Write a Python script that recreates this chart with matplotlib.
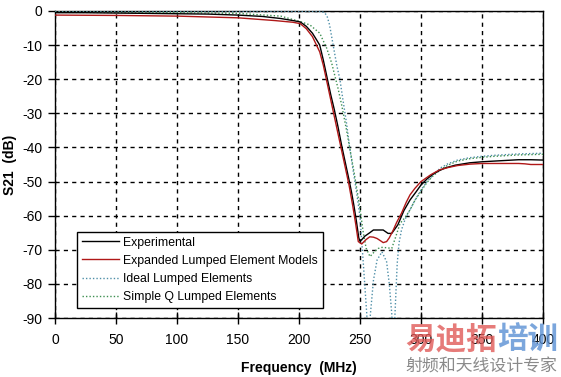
import matplotlib
matplotlib.use("Agg")
import matplotlib.pyplot as plt

plt.rcParams['font.family'] = ['Liberation Sans', 'DejaVu Sans']
plt.rcParams['axes.unicode_minus'] = False

# Experimental
exp_f = [0, 25, 50, 75, 100, 125, 150, 170, 185, 195, 201, 206, 211, 215, 217, 220, 223, 226, 229,
         232, 235, 238, 241, 243, 245, 247, 249, 250, 252, 254, 258, 261, 265, 269, 273, 276, 281,
         286, 291, 296, 300, 305, 310, 315, 320, 328, 340, 350, 360, 370, 380, 390, 400]
exp_db = [-0.5, -0.5, -0.6, -0.7, -0.8, -0.9, -1.2, -1.6, -2.2, -2.8, -3.2, -4.5, -6.5, -8.8, -10,
          -14.5, -19.5, -24.5, -29, -34, -39.5, -44.5, -49.5, -53, -57, -61.5, -66.5, -67.5, -66.8,
          -66, -65, -64.2, -64.2, -64.2, -65.2, -65.2, -62.7, -58.5, -55.4, -53, -51, -49.2, -47.8,
          -46.8, -46, -45.2, -44.5, -44.2, -44, -43.8, -43.6, -43.6, -43.7]

# Expanded Lumped Element Models
red_f = [0, 50, 100, 150, 180, 195, 201, 206, 211, 215, 217, 220, 223, 226, 229, 232, 235, 238, 241,
         244, 246.5, 248.6, 251.4, 255, 258, 261, 264, 267, 269, 271.8, 274, 277.3, 280, 284, 288,
         291, 295, 300, 308, 315, 322, 330, 340, 350, 360, 370, 380, 385, 390, 400]
red_db = [-1.2, -1.3, -1.5, -2.0, -2.8, -3.3, -3.7, -5.2, -7.5, -10.5, -12, -16, -21, -26, -31, -36,
          -41, -46, -51, -57, -62.5, -67.6, -68.3, -67, -66.2, -66.3, -66.7, -67.4, -67.9, -67.6,
          -66.5, -64.2, -62, -59.3, -56, -53.9, -52, -50, -48, -46.6, -45.9, -45.3, -44.9, -44.7,
          -44.7, -44.7, -44.7, -44.8, -45, -45]

# Ideal Lumped Elements
ideal_f = [0, 100, 200, 215, 219, 221, 223, 225, 227, 229, 231, 233.5, 236, 239, 241.8, 244.5, 247.3,
           250, 252.7, 255.5, 257, 258.5, 261, 264, 268, 271.8, 274, 276, 277.3, 278.7, 280.5, 282,
           284, 287, 291, 295, 300, 305, 310, 316, 322, 330, 340, 350, 360, 370, 380, 390, 400]
ideal_db = [-0.1, -0.1, -0.1, -0.1, -0.2, -0.5, -1.5, -4, -8, -12, -16, -20, -26, -33, -40.7, -47,
            -53.4, -60.3, -73.9, -88.6, -100, -89, -79, -73, -70.6, -73.5, -80, -88.6, -100, -88.6,
            -74, -68, -64.2, -61, -58.3, -55.5, -52.5, -50, -48, -46, -44.8, -43.7, -43, -42.6,
            -42.3, -42.1, -41.9, -41.8, -41.7]

# Simple Q Lumped Elements
simq_f = [0, 100, 150, 185, 193, 201, 209, 217, 222.7, 226.8, 232, 235, 239, 242, 245, 248, 250,
          252.7, 255, 258.2, 262, 265, 268, 271.8, 276, 279, 282.8, 287, 291, 295, 300, 305, 310,
          316, 322, 330, 340, 350, 360, 370, 380, 390, 400]
simq_db = [-0.4, -0.5, -0.7, -1.5, -2.3, -3.1, -4.1, -6.5, -10.9, -15.3, -22.7, -27.6, -35, -41,
           -47, -53.5, -58, -65, -69.5, -72, -70.5, -69.6, -69.3, -69.4, -69.6, -66.5, -62.3, -60.5,
           -58.3, -55.5, -52.8, -50.2, -48.3, -46.5, -45.2, -44, -43.3, -42.9, -42.6, -42.4, -42.2,
           -42.1, -42]

fig = plt.figure(figsize=(5.61, 3.77), dpi=100)
ax = fig.add_axes([55/561, 59/377, 488/561, 307/377])

ax.plot(exp_f, exp_db, color='black', lw=1.0, label='Experimental', zorder=4)
ax.plot(red_f, red_db, color='#b01818', lw=1.0, label='Expanded Lumped Element Models', zorder=5)
ax.plot(ideal_f, ideal_db, color='#4f8fa8', lw=1.0, ls=(0, (1, 1.5)), label='Ideal Lumped Elements', zorder=3)
ax.plot(simq_f, simq_db, color='#3d8f50', lw=1.0, ls=(0, (1, 1.5)), label='Simple Q Lumped Elements', zorder=3)

ax.set_xlim(0, 400)
ax.set_ylim(-90, 0)
ax.set_xticks(range(0, 401, 50))
ax.set_yticks(range(-90, 1, 10))
ax.grid(True, color='black', ls=(0, (3, 3)), lw=1.0)
ax.tick_params(axis='y', direction='out', length=5, width=1, pad=4, labelsize=10)
ax.tick_params(axis='x', direction='inout', length=8, width=1, pad=7, labelsize=10)
for s in ax.spines.values():
    s.set_linewidth(1.0)

ax.set_xlabel('Frequency  (MHz)', fontsize=10, fontweight='bold', labelpad=10)
ax.set_ylabel('S21  (dB)', fontsize=10, fontweight='bold')
ax.yaxis.set_label_coords(-0.078, 0.5)

leg = ax.legend(loc='lower left', bbox_to_anchor=(0.045, 0.033), borderaxespad=0, fontsize=8.8,
                fancybox=False, framealpha=1, edgecolor='black', handlelength=3.0,
                labelspacing=0.5, borderpad=0.4, handletextpad=0.4)
leg.get_frame().set_linewidth(1.0)
leg.set_zorder(10)

# watermark
fig.text(405/561, 0.098, '易迪拓', fontsize=22, fontweight='bold', color='#e05a58', alpha=0.8,
         family=['Noto Sans CJK SC'], ha='left', va='center')
fig.text(497/561, 0.098, '培训', fontsize=22, fontweight='bold', color='#5a90d4', alpha=0.8,
         family=['Noto Sans CJK SC'], ha='left', va='center')
fig.text(481/561, 0.027, '射频和天线设计专家', fontsize=12.2, color='#8a8a8a',
         family=['Noto Sans CJK SC'], ha='center', va='center')

fig.savefig('out.png', dpi=100)
